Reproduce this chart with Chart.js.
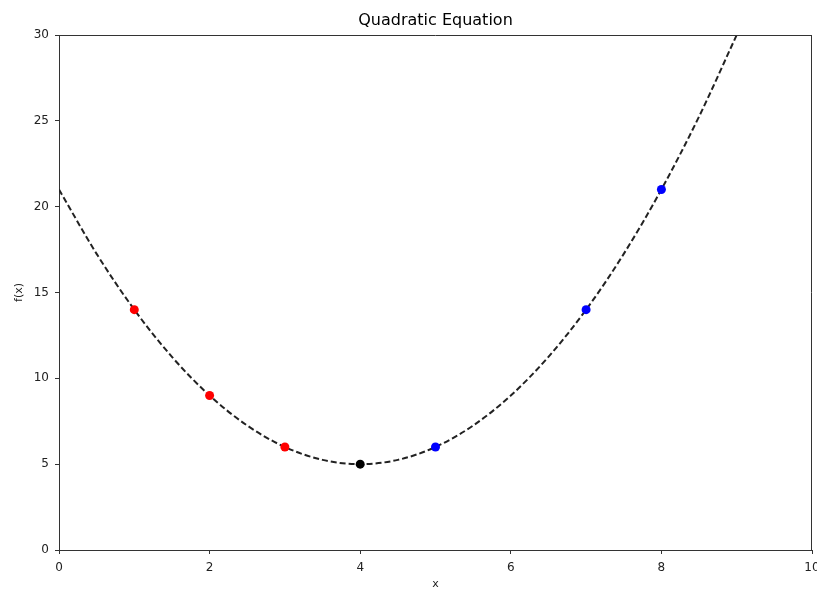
<!DOCTYPE html>
<html>
<head>
<meta charset="utf-8">
<script src="https://cdn.jsdelivr.net/npm/chart.js@4"></script>
<style>
  body { margin: 0; background: #fff; }
</style>
</head>
<body>
<canvas id="quadChart" width="817" height="589"></canvas>
<script>
// dashed curve
const curveX = [0, 0.5, 1, 1.5, 2, 2.5, 3, 3.5, 4, 4.5, 5, 5.5, 6, 6.5, 7, 7.5, 8, 8.5, 9];
const curveY = [21, 17.25, 14, 11.25, 9, 7.25, 6, 5.25, 5, 5.25, 6, 7.25, 9, 11.25, 14, 17.25, 21, 25.25, 30];

// marked points
const redX = [1, 2, 3];
const redY = [14, 9, 6];
const blackX = [4];
const blackY = [5];
const blueX = [5, 7, 8];
const blueY = [6, 14, 21];

const xTicks = [0, 2, 4, 6, 8, 10];
const yTicks = [0, 5, 10, 15, 20, 25, 30];

function toPoints(xs, ys) {
    return xs.map((x, i) => ({ x: x, y: ys[i] }));
}

function dots(label, xs, ys, color) {
    return {
        label: label,
        data: toPoints(xs, ys),
        showLine: false,
        pointRadius: 4.5,
        pointHoverRadius: 4.5,
        pointBackgroundColor: color,
        pointBorderColor: color,
        pointBorderWidth: 0,
        order: 1
    };
}

const font = { family: 'DejaVu Sans', size: 12 };
const axisColor = '#333';

new Chart(document.getElementById('quadChart').getContext('2d'), {
    type: 'scatter',
    data: {
        datasets: [
            {
                label: 'f(x)',
                data: toPoints(curveX, curveY),
                showLine: true,
                borderColor: '#222',
                borderWidth: 2,
                borderDash: [6, 3],
                pointRadius: 0,
                cubicInterpolationMode: 'monotone',
                fill: false,
                order: 2
            },
            dots('left', redX, redY, '#ff0000'),
            dots('vertex', blackX, blackY, '#000000'),
            dots('right', blueX, blueY, '#0000ff')
        ]
    },
    options: {
        responsive: false,
        animation: false,
        layout: { padding: { left: 0, right: 5, top: 0, bottom: 0 } },
        plugins: {
            legend: { display: false },
            tooltip: { enabled: false }
        },
        scales: {
            x: {
                type: 'linear',
                min: 0,
                max: 10,
                afterBuildTicks: axis => { axis.ticks = xTicks.map(v => ({ value: v })); },
                afterFit: axis => { axis.height = 39; axis.paddingLeft = 0; axis.paddingRight = 0; },
                grid: { drawOnChartArea: false, drawTicks: true, tickLength: 4, color: axisColor },
                border: { color: axisColor, width: 1 },
                ticks: { color: '#222', font: font, padding: 7, maxRotation: 0 },
                title: {
                    display: true,
                    text: 'x',
                    color: '#222',
                    font: { family: 'DejaVu Sans', size: 11 },
                    padding: { top: 0, bottom: -2 }
                }
            },
            // top axis only carries the chart title, centred over the plot
            xTop: {
                type: 'linear',
                position: 'top',
                min: 0,
                max: 10,
                afterFit: axis => { axis.height = 35; axis.paddingLeft = 0; axis.paddingRight = 0; },
                grid: { display: false },
                border: { display: false },
                ticks: { display: false },
                title: {
                    display: true,
                    text: 'Quadratic Equation',
                    color: '#000',
                    font: { family: 'DejaVu Sans', size: 16 },
                    padding: { top: 11, bottom: 0 }
                }
            },
            y: {
                type: 'linear',
                min: 0,
                max: 30,
                afterBuildTicks: axis => { axis.ticks = yTicks.map(v => ({ value: v })); },
                afterFit: axis => { axis.width = 59; axis.paddingTop = 0; axis.paddingBottom = 0; },
                grid: { drawOnChartArea: false, drawTicks: true, tickLength: 4, color: axisColor },
                border: { color: axisColor, width: 1 },
                ticks: { color: '#222', font: font, padding: 6 },
                title: {
                    display: true,
                    text: 'f(x)',
                    color: '#222',
                    font: { family: 'DejaVu Sans', size: 11 },
                    padding: { top: 13, bottom: 0 }
                }
            }
        }
    },
    plugins: [{
        id: 'frame',
        afterDatasetsDraw(chart) {
            const { ctx, chartArea: a } = chart;
            ctx.save();
            ctx.strokeStyle = axisColor;
            ctx.lineWidth = 1;
            ctx.beginPath();
            ctx.moveTo(a.left, a.top + 0.5);
            ctx.lineTo(a.right, a.top + 0.5);
            ctx.moveTo(a.right - 0.5, a.top);
            ctx.lineTo(a.right - 0.5, a.bottom);
            ctx.stroke();
            ctx.restore();
        }
    }]
});
</script>
</body>
</html>
